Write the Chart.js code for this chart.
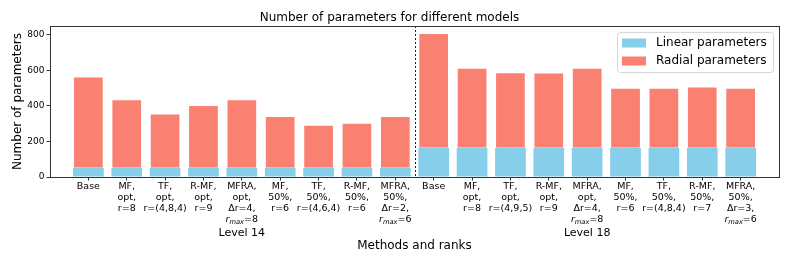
<!DOCTYPE html>
<html>
<head>
<meta charset="utf-8">
<script src="https://cdn.jsdelivr.net/npm/chart.js@4.4.1/dist/chart.umd.min.js"></script>
<style>
  html, body { margin: 0; padding: 0; background: #fff; }
  #wrap { width: 793px; height: 264px; }
</style>
</head>
<body>
<div id="wrap"><canvas id="paramChart" width="793" height="264"></canvas></div>
<script>
// --- Data ---
const methodLabels = [
  // Level 14
  ["Base"],
  ["MF,", "opt,", "r=8"],
  ["TF,", "opt,", "r=(4,8,4)"],
  ["R-MF,", "opt,", "r=9"],
  ["MFRA,", "opt,", "Δr=4,", "r_max=8"],
  ["MF,", "50%,", "r=6"],
  ["TF,", "50%,", "r=(4,6,4)"],
  ["R-MF,", "50%,", "r=6"],
  ["MFRA,", "50%,", "Δr=2,", "r_max=6"],
  // Level 18
  ["Base"],
  ["MF,", "opt,", "r=8"],
  ["TF,", "opt,", "r=(4,9,5)"],
  ["R-MF,", "opt,", "r=9"],
  ["MFRA,", "opt,", "Δr=4,", "r_max=8"],
  ["MF,", "50%,", "r=6"],
  ["TF,", "50%,", "r=(4,8,4)"],
  ["R-MF,", "50%,", "r=7"],
  ["MFRA,", "50%,", "Δr=3,", "r_max=6"],
];
const levelNames = ["Level 14", "Level 18"];
const levelCenterIndex = [4, 13];
const linearParams = [52, 52, 52, 52, 52, 52, 52, 52, 52,
                      164, 164, 164, 164, 164, 164, 164, 164, 164];
const radialParams = [514, 386, 306, 353, 386, 291, 242, 253, 291,
                      646, 451, 426, 424, 451, 338, 338, 346, 338];
const yTicks = [0, 200, 400, 600, 800];

const FONT = "DejaVu Sans";
Chart.defaults.font.family = FONT;
Chart.defaults.color = "#000";

const toPoints = (arr) => arr.map((v, i) => ({ x: i, y: v }));

// frame, separator line, custom legend and multi-line tick labels
const decorPlugin = {
  id: "decor",
  afterDatasetsDraw(chart) {
    const { ctx, chartArea: a, scales } = chart;
    const xs = scales.x;
    ctx.save();
    // dashed separator between the two levels
    const sx = Math.round(xs.getPixelForValue(8.5)) + 0.5;
    ctx.strokeStyle = "#222";
    ctx.lineWidth = 1;
    ctx.setLineDash([2, 2]);
    ctx.beginPath();
    ctx.moveTo(sx, a.top);
    ctx.lineTo(sx, a.bottom);
    ctx.stroke();
    ctx.setLineDash([]);
    // frame
    ctx.strokeStyle = "#333";
    ctx.strokeRect(Math.round(a.left) + 0.5, Math.round(a.top) + 0.5,
      Math.round(a.right - a.left), Math.round(a.bottom - a.top));

    // legend
    const w = 156, h = 40;
    const lx = a.right - 6 - w, ly = a.top + 6;
    ctx.fillStyle = "rgba(255,255,255,0.8)";
    ctx.strokeStyle = "#d6d6d6";
    ctx.beginPath();
    ctx.roundRect(lx + 0.5, ly + 0.5, w, h, 3);
    ctx.fill();
    ctx.stroke();
    ctx.font = "12px '" + FONT + "'";
    ctx.textBaseline = "middle";
    ctx.textAlign = "left";
    chart.data.datasets.forEach((ds, i) => {
      const cy = ly + 11 + i * 18;
      ctx.fillStyle = ds.backgroundColor;
      ctx.fillRect(lx + 5, cy - 4.5, 24, 9);
      ctx.fillStyle = "#000";
      ctx.fillText(ds.label, lx + 39, cy);
    });

    // x tick labels
    const fs = 9.5;
    ctx.textBaseline = "middle";
    methodLabels.forEach((lines, i) => {
      const x = xs.getPixelForValue(i);
      lines.forEach((line, j) => {
        const y = a.bottom + 10 + j * 11;
        if (line.startsWith("r_max")) {
          const rest = line.slice(5);
          ctx.font = "italic " + fs + "px '" + FONT + "'";
          const w1 = ctx.measureText("r").width;
          ctx.font = "italic 6.7px '" + FONT + "'";
          const w2 = ctx.measureText("max").width;
          ctx.font = fs + "px '" + FONT + "'";
          const w3 = ctx.measureText(rest).width;
          let cx = x - (w1 + w2 + w3) / 2;
          ctx.textAlign = "left";
          ctx.font = "italic " + fs + "px '" + FONT + "'";
          ctx.fillText("r", cx, y);
          cx += w1;
          ctx.font = "italic 6.7px '" + FONT + "'";
          ctx.fillText("max", cx, y + 2.5);
          cx += w2;
          ctx.font = fs + "px '" + FONT + "'";
          ctx.fillText(rest, cx, y);
        } else {
          ctx.textAlign = "center";
          ctx.font = fs + "px '" + FONT + "'";
          ctx.fillText(line, x, y);
        }
      });
    });
    // level names
    ctx.textAlign = "center";
    ctx.font = "11px '" + FONT + "'";
    levelNames.forEach((name, k) => {
      ctx.fillText(name, xs.getPixelForValue(levelCenterIndex[k]), a.bottom + 56);
    });
    // x axis title
    ctx.font = "12px '" + FONT + "'";
    ctx.fillText("Methods and ranks", (a.left + a.right) / 2, a.bottom + 68.5);
    ctx.restore();
  },
};

const ctx = document.getElementById("paramChart").getContext("2d");
new Chart(ctx, {
  type: "bar",
  data: {
    datasets: [
      {
        label: "Linear parameters",
        data: toPoints(linearParams),
        backgroundColor: "#87CEEB",
        borderWidth: 0,
      },
      {
        label: "Radial parameters",
        data: toPoints(radialParams),
        backgroundColor: "#FA8072",
        borderColor: "rgba(255,255,255,0.55)",
        borderWidth: 1,
      },
    ],
  },
  options: {
    responsive: false,
    animation: false,
    layout: { padding: { left: 0, right: 14, top: 0, bottom: 0 } },
    datasets: { bar: { barPercentage: 0.8, categoryPercentage: 1 } },
    plugins: {
      legend: { display: false },
      tooltip: { enabled: false },
      title: {
        display: true,
        text: "Number of parameters for different models",
        font: { size: 12, weight: "normal" },
        color: "#000",
        padding: { top: 10.7, bottom: 0.9 },
      },
    },
    scales: {
      x: {
        type: "linear",
        stacked: true,
        offset: false,
        min: -1,
        max: 18,
        afterBuildTicks: (s) => {
          s.ticks = methodLabels.map((_, i) => ({ value: i }));
        },
        afterFit: (s) => { s.height = 87; },
        ticks: { display: false },
        grid: { offset: false, drawOnChartArea: false, tickLength: 3.5, color: "#333" },
        border: { color: "#333" },
      },
      y: {
        stacked: true,
        min: 0,
        max: 850,
        afterBuildTicks: (s) => {
          s.ticks = yTicks.map((v) => ({ value: v }));
        },
        afterFit: (s) => { s.width = 50; },
        ticks: { font: { size: 9 }, padding: 2, color: "#000" },
        grid: { drawOnChartArea: false, tickLength: 3.5, color: "#333" },
        border: { color: "#333" },
        title: {
          display: true,
          text: "Number of parameters",
          font: { size: 12 },
          color: "#000",
          padding: { top: 11, bottom: 0 },
        },
      },
    },
  },
  plugins: [decorPlugin],
});
</script>
</body>
</html>
